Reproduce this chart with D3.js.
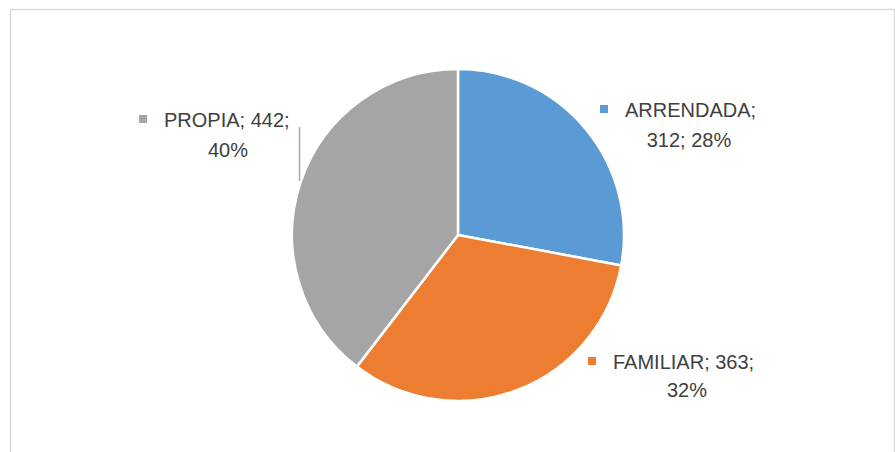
<!DOCTYPE html>
<html>
<head>
<meta charset="utf-8">
<script src="https://cdn.jsdelivr.net/npm/d3@7"></script>
<style>
  body { margin: 0; background: #fff; }
  svg text { font-family: "Liberation Sans", "DejaVu Sans", sans-serif; fill: #404040; }
</style>
</head>
<body>
<div id="chart"></div>
<script>
// Data
const categories = ["ARRENDADA", "FAMILIAR", "PROPIA"];
const values = [312, 363, 442];
const percents = ["28%", "32%", "40%"];
const colors = ["#5B9BD5", "#ED7D31", "#A5A5A5"];

// Canvas
var width = 895, height = 452;
var cx = 458, cy = 235, radius = 166;

var svg = d3.select("#chart").append("svg")
    .attr("width", width)
    .attr("height", height);

// chart frame (bottom edge is out of the picture)
svg.append("path")
    .attr("d", "M10.5,470 V9.5 H894.5 V470")
    .attr("fill", "none")
    .attr("stroke", "#D9D9D9")
    .attr("stroke-width", 1.5);

var dane = categories.map((c, i) => ({ name: c, value: values[i], pct: percents[i], color: colors[i] }));

var pie = d3.pie().value(d => d.value).sort(null);
var arc = d3.arc().innerRadius(0).outerRadius(radius);

var g = svg.append("g").attr("transform", "translate(" + cx + "," + cy + ")");

g.selectAll("path")
    .data(pie(dane))
    .join("path")
        .attr("d", arc)
        .attr("fill", d => d.data.color)
        .attr("stroke", "#fff")
        .attr("stroke-width", 2.5)
        .attr("stroke-linejoin", "round");

// Label layout: line 1 (marker + text, start-anchored) and line 2 (centred)
var labelPos = [
    { x1: 625, y1: 117, x2: 689, y2: 147, line1: d => d.name + ";", line2: d => d.value + "; " + d.pct },
    { x1: 613, y1: 369, x2: 687, y2: 397, line1: d => d.name + "; " + d.value + ";", line2: d => d.pct },
    { x1: 164, y1: 127, x2: 228, y2: 157, line1: d => d.name + "; " + d.value + ";", line2: d => d.pct }
];

var labels = svg.append("g").selectAll("g")
    .data(dane)
    .join("g");

labels.each(function(d, i) {
    var lp = labelPos[i];
    var sel = d3.select(this);
    sel.append("rect")
        .attr("x", lp.x1 - 25)
        .attr("y", lp.y1 - 12)
        .attr("width", 8)
        .attr("height", 8)
        .attr("fill", d.color);
    sel.append("text")
        .attr("x", lp.x1)
        .attr("y", lp.y1)
        .style("font-size", "20px")
        .text(lp.line1(d));
    sel.append("text")
        .attr("x", lp.x2)
        .attr("y", lp.y2)
        .attr("text-anchor", "middle")
        .style("font-size", "20px")
        .text(lp.line2(d));
});

// leader line for PROPIA
svg.append("line")
    .attr("x1", 299.5).attr("y1", 127)
    .attr("x2", 299.5).attr("y2", 181)
    .attr("stroke", "#A6A6A6")
    .attr("stroke-width", 1.5);
</script>
</body>
</html>
